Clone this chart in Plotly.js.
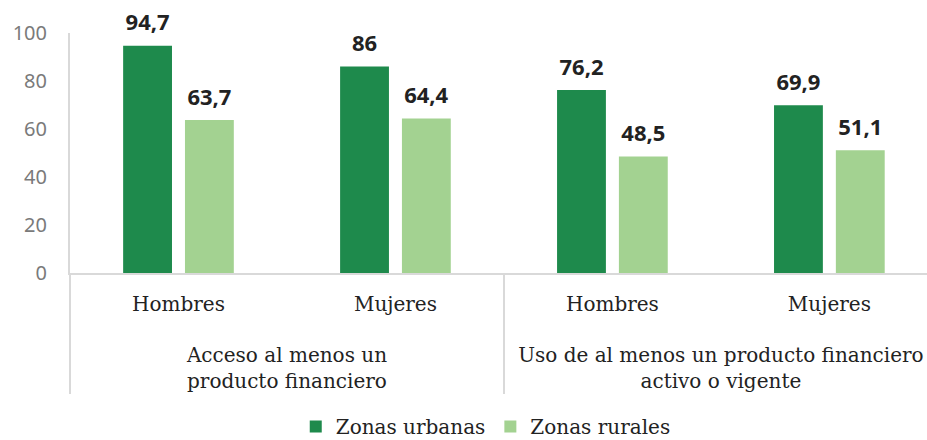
<!DOCTYPE html>
<html>
<head>
<meta charset="utf-8">
<script src="https://cdn.plot.ly/plotly-3.0.1.min.js"></script>
<style>html,body{margin:0;padding:0;background:#fff;}#chart{width:927px;height:440px;}</style>
</head>
<body>
<div id="chart"></div>
<script>
const groups = ["Acceso al menos un<br>producto financiero", "Acceso al menos un<br>producto financiero",
                "Uso de al menos un producto financiero<br>activo o vigente", "Uso de al menos un producto financiero<br>activo o vigente"];
const sexes = ["Hombres", "Mujeres", "Hombres", "Mujeres"];
const urbanas = [94.7, 86, 76.2, 69.9];
const rurales = [63.7, 64.4, 48.5, 51.1];
const seriesNames = ["Zonas urbanas", "Zonas rurales"];

// bar value labels, lifted a little above the bar top
const fmt = v => "<span style='font-size:22px'>" + String(v).replace('.', ',') + "</span><br>\u00A0";
const labelFont = {family: "Noto Sans, sans-serif", size: 8, color: "#222", weight: 700};
// first-level tick labels get an invisible tall second line so the group labels sit lower
const sexLabels = sexes.map(s => s + "<br><span style='font-size:53px'>\u00A0</span>");

const traces = [
  {type: "bar", name: seriesNames[0], x: [groups, sexLabels], y: urbanas,
   marker: {color: "#1E8A4C"}, text: urbanas.map(fmt), textposition: "outside", constraintext: "none",
   textfont: labelFont, cliponaxis: false, hoverinfo: "none"},
  {type: "bar", name: seriesNames[1], x: [groups, sexLabels], y: rurales,
   marker: {color: "#A3D291"}, text: rurales.map(fmt), textposition: "outside", constraintext: "none",
   textfont: labelFont, cliponaxis: false, hoverinfo: "none"}
];

const layout = {
  width: 927, height: 440,
  margin: {l: 70, r: 0, t: 33, b: 167, autoexpand: false},
  paper_bgcolor: "#fff", plot_bgcolor: "#fff",
  barmode: "group", bargap: 0.43, bargroupgap: 0.21,
  showlegend: true,
  legend: {orientation: "h", x: 0.524, xanchor: "center", xref: "container", y: -0.64, yanchor: "middle", yref: "paper",
           font: {family: "DejaVu Serif, serif", size: 20, color: "#222"}},
  xaxis: {type: "multicategory", range: [-0.5, 3.45], showgrid: false, zeroline: false,
          showline: true, linecolor: "#d9d9d9", linewidth: 2, ticks: "", ticklabelstandoff: 12,
          showdividers: true, dividercolor: "#d9d9d9", dividerwidth: 2, automargin: false,
          tickfont: {family: "DejaVu Serif, serif", size: 20, color: "#222"}},
  yaxis: {range: [0, 100], tickvals: [0, 20, 40, 60, 80, 100], showgrid: false, zeroline: false,
          showline: true, linecolor: "#d9d9d9", linewidth: 2, ticks: "", ticklabelstandoff: 17, automargin: false,
          tickfont: {family: "Noto Sans, sans-serif", size: 20, color: "#7a7a7a"}},
  font: {family: "Noto Sans, sans-serif"}
};

Plotly.newPlot("chart", traces, layout, {displayModeBar: false, staticPlot: true});
</script>
</body>
</html>
